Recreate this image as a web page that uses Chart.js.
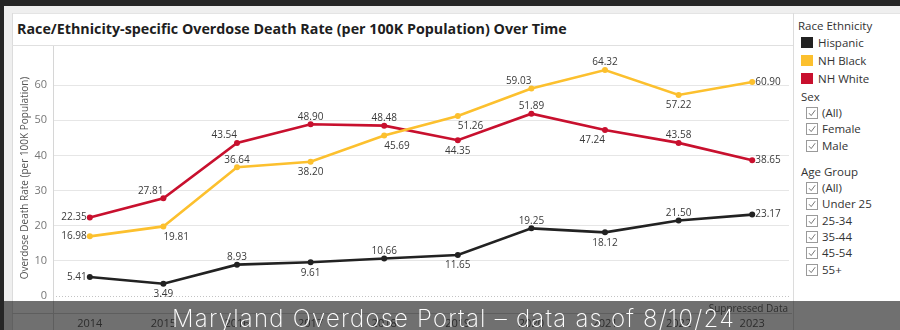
<!DOCTYPE html>
<html>
<head>
<meta charset="utf-8">
<script src="https://cdn.jsdelivr.net/npm/chart.js@4.4.1/dist/chart.umd.min.js"></script>
<style>
  html, body { margin: 0; padding: 0; width: 900px; height: 330px; overflow: hidden; background: #262626; font-family: "Open Sans", "Noto Sans", sans-serif; }
  .abs { position: absolute; }
  #page { left: 4px; top: 6px; width: 896px; height: 324px; background: #efefef; }
  #card { left: 12px; top: 13px; width: 781px; height: 317px; background: #fff; box-shadow: inset 1px 0 0 #dcdcdc, inset 0 1px 0 #e4e4e4; }
  #title { left: 17px; top: 13px; height: 32px; line-height: 32px; font-weight: 700; font-size: 15px; color: #1e1e1e; white-space: nowrap; }
  #titleRule { left: 12px; top: 45px; width: 781px; height: 1px; background: #e0e0e0; }
  #legend { left: 793px; top: 13px; width: 107px; height: 317px; background: #fff; box-shadow: inset 1px 0 0 #dcdcdc, inset 0 1px 0 #e4e4e4; }
  .lg { position: absolute; height: 16px; line-height: 16px; font-size: 11.5px; color: #333; white-space: nowrap; }
  .sw { position: absolute; width: 12px; height: 11px; }
  .cb { position: absolute; width: 10px; height: 10px; border: 1px solid #9a9a9a; background: #fff; }
  #plot { left: 12px; top: 46px; width: 780px; height: 284px; }
  #shade { left: 4px; top: 301px; width: 896px; height: 29px; background: rgba(0,0,0,0.56); }
  #stamp { left: 172px; top: 304px; font-family: Inter, "Noto Sans", sans-serif; font-weight: 200; font-size: 24px; line-height: 30px; color: #fff; white-space: nowrap; }
</style>
</head>
<body>
<div id="page" class="abs"></div>
<div id="card" class="abs"></div>
<div id="title" class="abs">Race/Ethnicity-specific Overdose Death Rate (per 100K Population) Over Time</div>
<div id="titleRule" class="abs"></div>
<div id="plot" class="abs"><canvas id="c" width="780" height="284"></canvas></div>
<div id="legend" class="abs"></div>
<div id="shade" class="abs"></div>
<div id="stamp" class="abs">Maryland Overdose Portal – data as of 8/10/24</div>

<script>
// Years on the x axis
const years = ['2014', '2015', '2016', '2017', '2018', '2019', '2020', '2021', '2022', '2023'];

// Overdose death rate per 100K population
const hispanic = [5.41, 3.49, 8.93, 9.61, 10.66, 11.65, 19.25, 18.12, 21.50, 23.17];
const nhBlack  = [16.98, 19.81, 36.64, 38.20, 45.69, 51.26, 59.03, 64.32, 57.22, 60.90];
const nhWhite  = [22.35, 27.81, 43.54, 48.90, 48.48, 44.35, 51.89, 47.24, 43.58, 38.65];

// Y axis ticks
const yTicks = [0, 10, 20, 30, 40, 50, 60];

// Where each value label sits relative to its point
// L = left, R = right, T = above, B = below, TL = above-left, BR = below-right, BL = below-left
const hispanicLabelSide = ['L', 'B', 'T', 'B', 'T', 'B', 'T', 'B', 'T', 'R'];
const nhBlackLabelSide  = ['L', 'BR', 'T', 'B', 'BR', 'BR', 'TL', 'T', 'B', 'R'];
const nhWhiteLabelSide  = ['L', 'TL', 'TL', 'T', 'T', 'B', 'T', 'BL', 'T', 'R'];

const COLORS = { hispanic: '#222222', nhBlack: '#fcc02e', nhWhite: '#c8102e' };

// Filter panel on the right
const raceItems = [
  { name: 'Hispanic', color: COLORS.hispanic },
  { name: 'NH Black', color: COLORS.nhBlack },
  { name: 'NH White', color: COLORS.nhWhite }
];
const sexItems = ['(All)', 'Female', 'Male'];
const ageItems = ['(All)', 'Under 25', '25-34', '35-44', '45-54', '55+'];

function buildLegend() {
  const lg = document.getElementById('legend');
  const ox = 793, oy = 13;
  const addText = (txt, x, cy) => {
    const d = document.createElement('div');
    d.className = 'lg';
    d.textContent = txt;
    d.style.left = (x - ox) + 'px';
    d.style.top = (cy - 8 - oy) + 'px';
    lg.appendChild(d);
  };
  const addCheck = (x, cy) => {
    const b = document.createElement('div');
    b.className = 'cb';
    b.style.left = (x - ox) + 'px';
    b.style.top = (cy - 6 - oy) + 'px';
    b.innerHTML = '<svg width="10" height="10" style="position:absolute;left:0;top:0"><polyline points="2,5.2 4.2,7.6 8.2,2.2" fill="none" stroke="#777" stroke-width="1"/></svg>';
    lg.appendChild(b);
  };
  addText('Race Ethnicity', 798, 26);
  const raceY = [43, 61, 79];
  raceItems.forEach((it, i) => {
    const s = document.createElement('div');
    s.className = 'sw';
    s.style.background = it.color;
    s.style.left = (801 - ox) + 'px';
    s.style.top = (raceY[i] - 6 - oy) + 'px';
    lg.appendChild(s);
    addText(it.name, 818, raceY[i]);
  });
  addText('Sex', 801, 97);
  const sexY = [113, 129, 146];
  sexItems.forEach((t, i) => { addCheck(806, sexY[i]); addText(t, 822, sexY[i]); });
  addText('Age Group', 801, 172);
  const ageY = [188, 204, 221, 237, 253, 270];
  ageItems.forEach((t, i) => { addCheck(806, ageY[i]); addText(t, 822, ageY[i]); });
}
buildLegend();

// Fit the heading to its width
(function fitTitle() {
  const t = document.getElementById('title');
  let fs = 15;
  t.style.fontSize = fs + 'px';
  const w = t.getBoundingClientRect().width;
  fs = fs * 550 / w;
  t.style.fontSize = fs.toFixed(2) + 'px';
})();

(function fitStamp() {
  const s = document.getElementById('stamp');
  const w = s.getBoundingClientRect().width;
  const n = s.textContent.length;
  s.style.letterSpacing = ((563 - w) / n).toFixed(2) + 'px';
})();

const labelFont = '10px "Open Sans", "Noto Sans", sans-serif';

const chrome = {
  id: 'chrome',
  beforeDatasetsDraw(chart) {
    const { ctx, chartArea: a } = chart;
    ctx.save();
    // dotted baseline at zero
    ctx.strokeStyle = '#c4c4c4';
    ctx.lineWidth = 1;
    ctx.setLineDash([1, 2]);
    ctx.beginPath();
    ctx.moveTo(a.left, a.bottom + 0.5);
    ctx.lineTo(a.right, a.bottom + 0.5);
    ctx.stroke();
    ctx.setLineDash([]);
    // axis rule running down into the header
    ctx.strokeStyle = '#d6d6d6';
    ctx.beginPath();
    ctx.moveTo(a.left + 0.5, 0);
    ctx.lineTo(a.left + 0.5, chart.height);
    ctx.stroke();
    // header separator
    ctx.beginPath();
    ctx.moveTo(0, 267.5);
    ctx.lineTo(chart.width, 267.5);
    ctx.stroke();
    ctx.restore();
  },
  afterDatasetsDraw(chart) {
    const { ctx } = chart;
    ctx.save();
    ctx.font = labelFont;
    ctx.fillStyle = '#3a3a3a';
    chart.data.datasets.forEach((ds, di) => {
      const meta = chart.getDatasetMeta(di);
      meta.data.forEach((pt, i) => {
        const txt = ds.data[i].toFixed(2);
        const side = ds.labelSide[i];
        let x = pt.x, y = pt.y;
        ctx.textBaseline = 'middle';
        if (side === 'L') { ctx.textAlign = 'right'; x -= 3; }
        else if (side === 'R') { ctx.textAlign = 'left'; x += 3; }
        else {
          if (side[0] === 'T') y -= 7.5; else y += 10.5;
          if (side.length === 1) ctx.textAlign = 'center';
          else if (side[1] === 'L') ctx.textAlign = 'right';
          else ctx.textAlign = 'left';
        }
        ctx.fillText(txt, x, y);
      });
    });
    ctx.restore();
  },
  afterDraw(chart) {
    const { ctx } = chart;
    ctx.save();
    ctx.font = '10px "Open Sans", "Noto Sans", sans-serif';
    ctx.fillStyle = '#6a6a6a';
    ctx.textAlign = 'right';
    ctx.textBaseline = 'middle';
    ctx.fillText('Suppressed Data', 776, 263);
    ctx.translate(13, 132);
    ctx.rotate(-Math.PI / 2);
    ctx.textAlign = 'center';
    ctx.fillStyle = '#555';
    ctx.fillText('Overdose Death Rate (per 100K Population)', 0, 0);
    ctx.restore();
  }
};

const series = (label, data, color, sides) => ({
  label, data, labelSide: sides,
  borderColor: color, backgroundColor: color,
  borderWidth: 2.6, pointRadius: 3, pointHoverRadius: 3,
  pointBackgroundColor: color, pointBorderWidth: 0, tension: 0
});

new Chart(document.getElementById('c'), {
  type: 'line',
  data: {
    labels: years,
    datasets: [
      series('Hispanic', hispanic, COLORS.hispanic, hispanicLabelSide),
      series('NH Black', nhBlack, COLORS.nhBlack, nhBlackLabelSide),
      series('NH White', nhWhite, COLORS.nhWhite, nhWhiteLabelSide)
    ]
  },
  options: {
    responsive: false,
    animation: false,
    layout: { padding: 0 },
    plugins: { legend: { display: false }, tooltip: { enabled: false } },
    scales: {
      x: {
        offset: true,
        grid: { display: false, drawTicks: false },
        border: { display: false },
        ticks: { padding: 21, color: '#666', font: { family: '"Open Sans", "Noto Sans", sans-serif', size: 11 }, maxRotation: 0 },
        afterFit(s) { s.height = 34; }
      },
      y: {
        min: 0, max: 67.57,
        afterBuildTicks(s) { s.ticks = yTicks.map(v => ({ value: v })); },
        grid: {
          drawTicks: false,
          color: c => (c.tick && c.tick.value === 0) ? 'rgba(0,0,0,0)' : '#e6e6e6'
        },
        border: { display: false },
        ticks: { padding: 6, color: '#777', font: { family: '"Open Sans", "Noto Sans", sans-serif', size: 11 } },
        afterFit(s) { s.width = 41; }
      }
    }
  },
  plugins: [chrome]
});
</script>
</body>
</html>
